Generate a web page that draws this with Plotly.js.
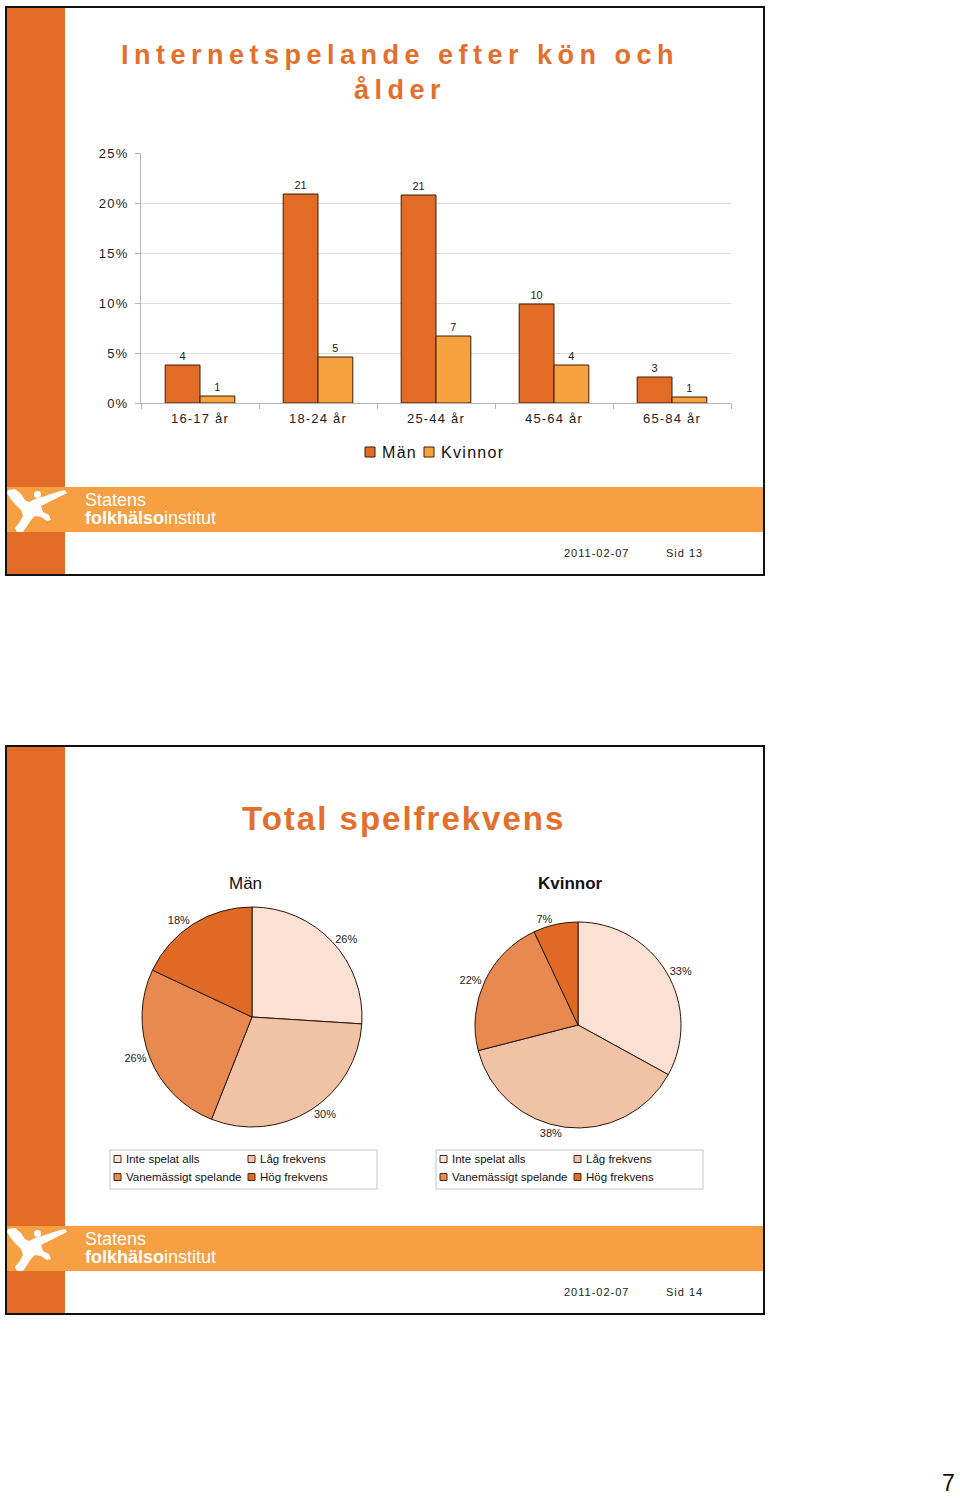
<!DOCTYPE html>
<html><head><meta charset="utf-8">
<script src="https://cdn.plot.ly/plotly-3.0.1.min.js"></script>
<style>
html,body{margin:0;padding:0;background:#fff;}
#bg{position:absolute;left:0;top:0;width:960px;height:1498px;}
#bg .xtick text, #bg .ytick text{letter-spacing:1.2px;}
</style></head><body>
<div id="bg"></div>
<script>
// ---- data ----
const ageGroups = ['16-17 år','18-24 år','25-44 år','45-64 år','65-84 år'];
const barSeries = ['Män','Kvinnor'];
const menShare = [3.8, 20.9, 20.8, 9.9, 2.6];
const menLabels = ['4','21','21','10','3'];
const womenShare = [0.7, 4.6, 6.7, 3.8, 0.6];
const womenLabels = ['1','5','7','4','1'];
const freqCategories = ['Inte spelat alls','Låg frekvens','Vanemässigt spelande','Hög frekvens'];
const pieTitles = ['Män','<b>Kvinnor</b>'];
const menFreq = [26, 30, 26, 18];
const womenFreq = [33, 38, 22, 7];
const slideDates = ['2011-02-07','2011-02-07'];
const slidePages = ['Sid 13','Sid 14'];

// ---- styles ----
const DARK = '#E26B26', LIGHT = '#F6A043';
const barColors = [DARK, '#F7A23E'];
const pieColors = ['#FAE1D4','#F1C3A6','#E8894F','#E06A25'];
const FONT = 'Arial, "Liberation Sans", sans-serif';
const W = 960, H = 1498;
const fx = x => x / W, fy = y => 1 - y / H;

function rect(x0, y0, x1, y1, fill, line, layer) {
  return {type:'rect', xref:'paper', yref:'paper', x0:fx(x0), x1:fx(x1), y0:fy(y1), y1:fy(y0),
          fillcolor:fill, line:line || {width:0}, layer:layer || 'below'};
}
function poly(pts, fill) {
  return {type:'path', xref:'paper', yref:'paper', fillcolor:fill, line:{width:0}, layer:'below',
          path:'M' + pts.map(p => fx(p[0]) + ',' + fy(p[1])).join('L') + 'Z'};
}
function ann(text, x, y, size, opts) {
  return Object.assign({xref:'paper', yref:'paper', x:fx(x), y:fy(y), text:text, showarrow:false,
    xanchor:'center', yanchor:'middle', font:{family:FONT, size:size, color:'#222'}}, opts || {});
}

const figure = [[3,2],[10,1],[16,6],[20,12],[24,14],[30,11],[40,8],[52,4],[60,2],[62,5],[54,9],[44,14],
  [36,18],[38,24],[44,27],[46,32],[42,33],[36,29],[30,28],[26,32],[22,38],[18,44],[12,44],[10,40],
  [14,35],[18,28],[16,22],[10,16],[5,10],[2,5]];

const shapes = [], annotations = [];
annotations.push(ann('<span style="letter-spacing:5.5px">Internetspelande efter kön och</span><br><span style="letter-spacing:5.5px">ålder</span>',
  400, 72, 27, {font:{family:FONT, size:27, color:'#E2702C', weight:700}}));
annotations.push(ann('<span style="letter-spacing:2px">Total spelfrekvens</span>', 403, 818, 33,
  {font:{family:FONT, size:33, color:'#E2702C', weight:700}}));

[7, 746].forEach((T, i) => {
  shapes.push(rect(6, T, 764, T + 568, '#fff'));
  shapes.push(rect(7, T + 1, 65, T + 567, DARK));
  shapes.push(rect(7, T + 480, 763, T + 525, LIGHT));
  shapes.push(poly(figure.map(p => [p[0] + 5, p[1] + T + 481]), '#fff'));
  shapes.push({type:'circle', xref:'paper', yref:'paper', x0:fx(34), x1:fx(41), y0:fy(T + 491), y1:fy(T + 484),
               fillcolor:'#fff', line:{width:0}, layer:'below'});
  shapes.push(rect(6, T, 764, T + 568, 'rgba(0,0,0,0)', {color:'#111', width:2}, 'above'));
  annotations.push(ann('Statens', 83, T + 493, 18, {xanchor:'left', font:{family:FONT, size:18, color:'#fff'}}));
  annotations.push(ann('<b>folkhälso</b>institut', 83, T + 511, 18, {xanchor:'left', font:{family:FONT, size:18, color:'#fff'}}));
  annotations.push(ann('<span style="letter-spacing:1px">' + slideDates[i] + '</span>', 596, T + 546, 11));
  annotations.push(ann('<span style="letter-spacing:1px">' + slidePages[i] + '</span>', 684, T + 546, 11));
});

// bar legend (drawn)
[365, 424].forEach((mx, i) => {
  shapes.push(rect(mx, 447, mx + 10, 457, barColors[i], {color:'#3b1d0c', width:1}, 'above'));
  annotations.push(ann('<span style="letter-spacing:1.3px">' + barSeries[i] + '</span>', mx + 15, 452, 16,
    {xanchor:'left', font:{family:FONT, size:16, color:'#111'}}));
});

// pie titles and legends (drawn)
[[246, 110], [570, 436]].forEach((p, k) => {
  annotations.push(ann(pieTitles[k], p[0], 883, 17, {font:{family:FONT, size:17, color:'#111'}}));
  const left = p[1];
  shapes.push(rect(left, 1150, left + 267, 1189, '#fff', {color:'#c4c4c4', width:1}));
  freqCategories.forEach((c, i) => {
    const mx = left + 4 + (i % 2) * 134, my = 1159 + Math.floor(i / 2) * 18;
    shapes.push(rect(mx, my - 3.5, mx + 7, my + 3.5, pieColors[i], {color:'#4a2a18', width:1}, 'above'));
    annotations.push(ann(c, mx + 10, my, 11.5, {xanchor:'left', font:{family:FONT, size:11.5, color:'#111'}}));
  });
});
annotations.push(ann('7', 948, 1483, 23, {font:{family:FONT, size:23, color:'#111'}}));

const traces = [
  {type:'bar', name:barSeries[0], x:ageGroups, y:menShare, text:menLabels, textposition:'outside',
   textfont:{size:11, color:'#222'}, cliponaxis:false, hoverinfo:'skip',
   marker:{color:barColors[0], line:{color:'#3b1d0c', width:1}}},
  {type:'bar', name:barSeries[1], x:ageGroups, y:womenShare, text:womenLabels, textposition:'outside',
   textfont:{size:11, color:'#222'}, cliponaxis:false, hoverinfo:'skip',
   marker:{color:barColors[1], line:{color:'#3b1d0c', width:1}}}
];
function pieTrace(values, dom) {
  return {type:'pie', labels:freqCategories, values:values, sort:false, direction:'clockwise',
    rotation:0, marker:{colors:pieColors, line:{color:'#2b1609', width:1}}, textposition:'outside',
    texttemplate:'%{value}%', textfont:{size:11, color:'#222'}, domain:dom, hoverinfo:'skip', showlegend:false};
}
traces.push(pieTrace(menFreq, {x:[fx(142), fx(362)], y:[fy(1127), fy(907)]}));
traces.push(pieTrace(womenFreq, {x:[fx(475), fx(681)], y:[fy(1128), fy(922)]}));

const layout = {
  width:W, height:H, margin:{l:0, r:0, t:0, b:0}, paper_bgcolor:'#fff', plot_bgcolor:'rgba(0,0,0,0)',
  font:{family:FONT, color:'#222'}, barmode:'group', bargap:0.41, bargroupgap:0, showlegend:false,
  xaxis:{domain:[fx(141), fx(731)], type:'category', showline:true, linecolor:'#b4b4b4', ticks:'outside',
         tickson:'boundaries', ticklen:5, tickcolor:'#b4b4b4', showgrid:false, ticklabelstandoff:3,
         tickfont:{size:13, color:'#222'}},
  yaxis:{domain:[fy(403), fy(153)], range:[0, 25], dtick:5, tick0:0, ticksuffix:'%', showline:true,
         linecolor:'#b4b4b4', ticks:'outside', ticklen:5, tickcolor:'#b4b4b4', gridcolor:'#dcdcdc',
         zeroline:false, ticklabelstandoff:4, tickfont:{size:13, color:'#222'}},
  shapes:shapes, annotations:annotations
};
Plotly.newPlot('bg', traces, layout, {staticPlot:true, displayModeBar:false});
</script>
</body></html>
